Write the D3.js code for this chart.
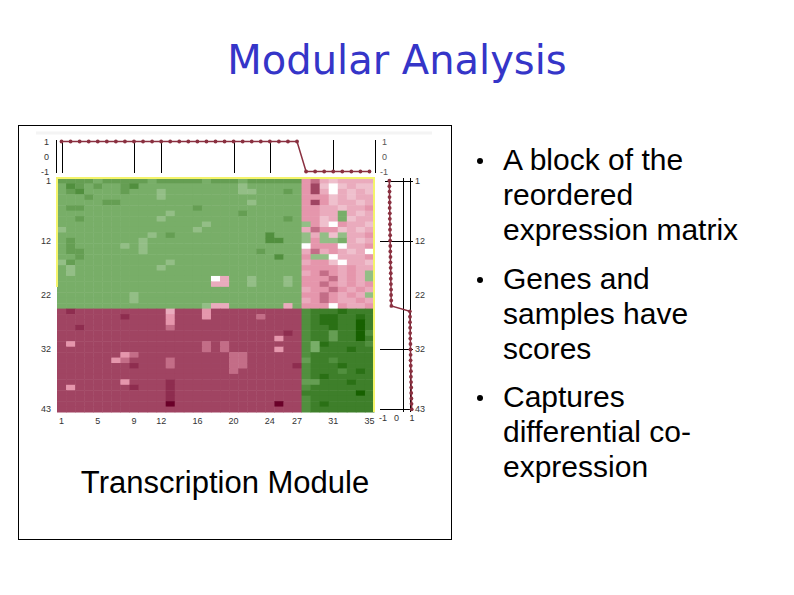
<!DOCTYPE html>
<html>
<head>
<meta charset="utf-8">
<script src="https://cdn.jsdelivr.net/npm/d3@7"></script>
<style>
	body { margin: 0; background: #fff; }
	svg { display: block; }
</style>
</head>
<body>
<div id="slide"></div>
<script>

// column (sample) and row (gene) tick labels
const sample_ticks = [ 1, 5, 9, 12, 16, 20, 24, 27, 31, 35 ];
const sample_grid = [ 1, 9, 12, 20, 24, 31 ];
const gene_ticks = [ 1, 12, 22, 32, 43 ];
const gene_grid = [ 1, 12, 32, 43 ];
const score_ticks = [ -1, 0, 1 ];
const gene_score_grid = [ 0.42, 0.87 ];

const sample_scores = [
	1, 1, 1, 1, 1, 1, 1, 1, 1, 1, 1, 1, 1, 1, 1, 1, 1, 1, 1, 1, 1, 1, 1, 1, 1, 1, 1,
	-1, -1, -1, -1, -1, -1, -1, -1
];

const gene_scores = [
	-0.46, -0.46, -0.45, -0.45, -0.44, -0.44, -0.43, -0.43, -0.42, -0.42, -0.41, -0.41,
	-0.40, -0.40, -0.39, -0.39, -0.38, -0.37, -0.37, -0.36, -0.35, -0.35, -0.34, -0.33,
	0.86, 0.87, 0.87, 0.88, 0.88, 0.89, 0.90, 0.90, 0.91, 0.91, 0.92, 0.93, 0.93, 0.94,
	0.95, 0.95, 0.96, 0.97, 0.98
];

// expression matrix, one string per gene (row), one char per sample
// samples 1-9 | 10-18 | 19-27 | 28-35
// a..j = -0.1..-1.0 (green), 0..9 = 0..0.9 (red), X = 1.0
const expr_rows = [
	"ffffeffff" + "fefffffef" + "ffeffffff" + "56434444",
	"egfefeefg" + "eeeeeeeee" + "eedeeeeee" + "57303433",
	"efgeeeefe" + "eedeeeeee" + "eeddeeefe" + "57404343",
	"eeefeeeee" + "eedeeeeee" + "eeeeeeeee" + "55534344",
	"eeeeeffee" + "eeeeeeeee" + "eeedeeeee" + "57534434",
	"effeeeeee" + "eeeeeefee" + "eeeeeeeee" + "55443445",
	"eeeeeeeee" + "eeedeeeee" + "eefeeeeee" + "5544e434",
	"eefeeeeee" + "eedeeeeee" + "eeeeeeefe" + "5534e344",
	"eeeeeeeee" + "eeeeeeede" + "eeeeeeeee" + "d5305443",
	"deeeeeeee" + "eeeeeedee" + "eeeeeeeee" + "46553434",
	"eeeeeeeee" + "edefeeeee" + "eeeeegeee" + "d4d3d445",
	"efeeeeeee" + "deeeeeeee" + "eeeeeggee" + "d5dde434",
	"efeeeeede" + "deeeeeeee" + "eeeeeeeee" + "05550445",
	"effeeeeee" + "deeeeeeee" + "eeeefeeee" + "46454340",
	"eefeeeeee" + "eeeeeeeee" + "eeeeeegee" + "5dd04445",
	"dfeeeeeee" + "eeedeeeee" + "eeeeeeeee" + "45530443",
	"edeeeeeee" + "eedeeeeee" + "eeeeeeeee" + "55554544",
	"edeeeeeee" + "eeeeeeeee" + "eeeeeeeee" + "4565454d",
	"eeeeeeeee" + "eeeeeeee0" + "4eedeeede" + "5556454d",
	"eeeeeeeee" + "eeeeeeee4" + "4eedeeede" + "55654545",
	"eeeeeeeee" + "eeeeeeeee" + "eeeeeeeee" + "45565454",
	"eeeeeeeed" + "eeeeeeeee" + "eeeeeeeee" + "5565454d",
	"eeeeeeeed" + "eeeeeeeee" + "eeeeeeeee" + "45654454",
	"eeeeeeeee" + "eeeeeeed4" + "4eeeeee4e" + "55505445",
	"787777777" + "777477757" + "777777777" + "ghhhihhh",
	"777777787" + "777577757" + "777767777" + "ghiihhih",
	"777777777" + "777577777" + "777777777" + "ghiihhjh",
	"778777777" + "777677777" + "777777777" + "ghhihhjh",
	"777777777" + "777777777" + "777777787" + "ghhfhhjg",
	"777777777" + "777777777" + "777777577" + "ghhfhhjh",
	"757777777" + "777777767" + "677777777" + "geihhhhg",
	"777777777" + "777777767" + "677777577" + "gehhhihh",
	"777777756" + "777777777" + "766777777" + "ghhhhhhh",
	"777777567" + "777677777" + "766777777" + "fhhghhhh",
	"777777778" + "777677777" + "766777778" + "ghhhihhh",
	"777777777" + "777777777" + "767777777" + "ghhhghih",
	"777777777" + "777777777" + "777777777" + "ghihhhhh",
	"777777757" + "777877777" + "777777777" + "ffhhhihh",
	"757777778" + "777877777" + "777777777" + "ghhhhhhh",
	"777777777" + "777877777" + "777777777" + "hhhhhhjh",
	"777777777" + "777877777" + "777777777" + "ghhhhhhh",
	"777777777" + "777X77777" + "777777X77" + "ghihhhhh",
	"777777777" + "777777777" + "777777777" + "ghhhhhhh"
];

const bullets = [
	[ "A block of the", "reordered", "expression matrix" ],
	[ "Genes and", "samples have", "scores" ],
	[ "Captures", "differential co-", "expression" ]
];

///////////////////////////////////////////////////////////////////////

function cell_value( ch )	{

	if( ch === "X" ) return( 1 );
	if( ch >= "0" && ch <= "9" ) return( +ch / 10 );
	return( -( ch.charCodeAt( 0 ) - 96 ) / 10 );
}

function draw_slide( div_id )	{

	let width = 794, height = 595;

	let svg = d3.select( "#" + div_id )
		.append( "svg" )
			.attr( "width", width )
			.attr( "height", height )
			.style( "font-family", "'Liberation Sans', Arial, sans-serif" );

	svg.append( "rect" )
		.attr( "width", width )
		.attr( "height", height )
		.attr( "fill", "#fff" );

	svg.append( "text" )
		.attr( "x", 397 )
		.attr( "y", 74 )
		.attr( "text-anchor", "middle" )
		.attr( "fill", "#3535c8" )
		.style( "font-family", "'Comic Sans MS', 'DejaVu Sans', sans-serif" )
		.style( "font-size", "40px" )
		.text( "Modular Analysis" );

	// picture frame
	svg.append( "rect" )
		.attr( "x", 18.5 )
		.attr( "y", 125.5 )
		.attr( "width", 433 )
		.attr( "height", 414 )
		.attr( "fill", "none" )
		.attr( "stroke", "#000" );

	svg.append( "line" )
		.attr( "x1", 36 ).attr( "x2", 432 )
		.attr( "y1", 133 ).attr( "y2", 133 )
		.attr( "stroke", "#f4f4f4" )
		.attr( "stroke-width", 3 );

	let cols = d3.range( 1, sample_scores.length + 1 );
	let rows = d3.range( 1, expr_rows.length + 1 );

	let x = d3.scaleBand().domain( cols ).range( [ 57, 374 ] );
	let y = d3.scaleBand().domain( rows ).range( [ 178, 412 ] );
	let xc = d => x( d ) + x.bandwidth() / 2;
	let yc = d => y( d ) + y.bandwidth() / 2;

	let color = d3.scaleLinear()
		.domain( [ -1, -0.5, 0, 0.5, 0.7, 1 ] )
		.range( [ "#176000", "#78ae68", "#ffffff", "#e596ac", "#a04462", "#6a0028" ] );

	let cells = [];
	expr_rows.forEach( ( s, r ) => {
		s.split( "" ).forEach( ( ch, c ) => {
			cells.push( { row: r + 1, col: c + 1, v: cell_value( ch ) } );
		} );
	} );

	svg.append( "g" )
		.selectAll( "rect" )
		.data( cells )
		.join( "rect" )
			.attr( "x", d => x( d.col ) )
			.attr( "y", d => y( d.row ) )
			.attr( "width", x.bandwidth() + 0.5 )
			.attr( "height", y.bandwidth() + 0.5 )
			.attr( "fill", d => color( d.v ) );

	// yellow module border
	let border = d3.path();
	border.moveTo( 57, 287 );
	border.lineTo( 57, 178 );
	border.lineTo( 374, 178 );
	border.lineTo( 374, 412 );
	svg.append( "path" )
		.attr( "d", border.toString() )
		.attr( "fill", "none" )
		.attr( "stroke", "#f4f46a" )
		.attr( "stroke-width", 2 );

	let tick_font = "9px";
	let tick_color = "#333";

	// row labels left
	svg.append( "g" )
		.selectAll( "text" )
		.data( gene_ticks )
		.join( "text" )
			.attr( "x", 51 )
			.attr( "y", d => yc( d ) + 3 )
			.attr( "text-anchor", "end" )
			.attr( "fill", tick_color )
			.style( "font-size", tick_font )
			.text( d => d );

	// column labels bottom
	svg.append( "g" )
		.selectAll( "text" )
		.data( sample_ticks )
		.join( "text" )
			.attr( "x", d => xc( d ) )
			.attr( "y", 424 )
			.attr( "text-anchor", "middle" )
			.attr( "fill", tick_color )
			.style( "font-size", tick_font )
			.text( d => d );

	// sample score panel (top)
	let ys = d3.scaleLinear().domain( [ -1, 1 ] ).range( [ 171.5, 141.5 ] );

	let top = svg.append( "g" );
	top.selectAll( "line.grid" )
		.data( sample_grid )
		.join( "line" )
			.attr( "class", "grid" )
			.attr( "x1", d => Math.round( xc( d ) ) + 0.5 )
			.attr( "x2", d => Math.round( xc( d ) ) + 0.5 )
			.attr( "y1", 140 )
			.attr( "y2", 173 )
			.attr( "stroke", "#000" );
	[ 56.5, 375.5 ].forEach( ax => {
		top.append( "line" )
			.attr( "x1", ax ).attr( "x2", ax )
			.attr( "y1", 140 ).attr( "y2", 173 )
			.attr( "stroke", "#000" );
	} );
	top.selectAll( "text.l" )
		.data( score_ticks )
		.join( "text" )
			.attr( "class", "l" )
			.attr( "x", 49 )
			.attr( "y", d => ys( d ) + 3 )
			.attr( "text-anchor", "end" )
			.attr( "fill", tick_color )
			.style( "font-size", tick_font )
			.text( d => d );
	top.selectAll( "text.r" )
		.data( score_ticks )
		.join( "text" )
			.attr( "class", "r" )
			.attr( "x", d => d < 0 ? 380 : 382 )
			.attr( "y", d => ys( d ) + 3 )
			.attr( "fill", "#555" )
			.style( "font-size", tick_font )
			.text( d => d );

	let score_color = "#8a3040";

	top.append( "path" )
		.datum( cols )
		.attr( "d", d3.line().x( d => xc( d ) ).y( d => ys( sample_scores[ d - 1 ] ) ) )
		.attr( "fill", "none" )
		.attr( "stroke", score_color )
		.attr( "stroke-width", 1.5 );
	top.selectAll( "circle" )
		.data( cols )
		.join( "circle" )
			.attr( "cx", d => xc( d ) )
			.attr( "cy", d => ys( sample_scores[ d - 1 ] ) )
			.attr( "r", 1.9 )
			.attr( "fill", score_color );

	// gene score panel (right)
	let xg = d3.scaleLinear().domain( [ -1, 1 ] ).range( [ 381, 412 ] );

	let side = svg.append( "g" );
	side.selectAll( "line.v" )
		.data( gene_score_grid )
		.join( "line" )
			.attr( "class", "v" )
			.attr( "x1", d => Math.round( xg( d ) ) + 0.5 )
			.attr( "x2", d => Math.round( xg( d ) ) + 0.5 )
			.attr( "y1", 178 )
			.attr( "y2", 412 )
			.attr( "stroke", "#000" );
	side.selectAll( "line.h" )
		.data( gene_grid )
		.join( "line" )
			.attr( "class", "h" )
			.attr( "x1", d => d === 1 ? 385 : 380 )
			.attr( "x2", 413 )
			.attr( "y1", d => Math.round( yc( d ) ) + 0.5 )
			.attr( "y2", d => Math.round( yc( d ) ) + 0.5 )
			.attr( "stroke", "#000" );
	side.selectAll( "text.g" )
		.data( gene_ticks )
		.join( "text" )
			.attr( "class", "g" )
			.attr( "x", 415 )
			.attr( "y", d => yc( d ) + 3 )
			.attr( "fill", tick_color )
			.style( "font-size", tick_font )
			.text( d => d );
	side.selectAll( "text.s" )
		.data( score_ticks )
		.join( "text" )
			.attr( "class", "s" )
			.attr( "x", d => xg( d ) + ( d < 0 ? 2 : 0 ) )
			.attr( "y", 421 )
			.attr( "text-anchor", "middle" )
			.attr( "fill", tick_color )
			.style( "font-size", tick_font )
			.text( d => d );

	side.append( "path" )
		.datum( rows )
		.attr( "d", d3.line().x( d => xg( gene_scores[ d - 1 ] ) ).y( d => yc( d ) ) )
		.attr( "fill", "none" )
		.attr( "stroke", score_color )
		.attr( "stroke-width", 1.5 );
	side.selectAll( "circle" )
		.data( rows )
		.join( "circle" )
			.attr( "cx", d => xg( gene_scores[ d - 1 ] ) )
			.attr( "cy", d => yc( d ) )
			.attr( "r", 1.9 )
			.attr( "fill", score_color );

	svg.append( "text" )
		.attr( "x", 225 )
		.attr( "y", 493 )
		.attr( "text-anchor", "middle" )
		.attr( "fill", "#000" )
		.style( "font-size", "31px" )
		.text( "Transcription Module" );

	// bullet list
	let first_baseline = [ 170, 289, 407 ];
	let line_step = 35;

	let items = svg.append( "g" )
		.selectAll( "g" )
		.data( bullets )
		.join( "g" )
			.attr( "transform", ( d, i ) => "translate(0," + first_baseline[ i ] + ")" );

	items.append( "circle" )
		.attr( "cx", 480 )
		.attr( "cy", -9 )
		.attr( "r", 3 )
		.attr( "fill", "#000" );

	items.selectAll( "text" )
		.data( d => d )
		.join( "text" )
			.attr( "x", 503 )
			.attr( "y", ( d, i ) => i * line_step )
			.attr( "fill", "#000" )
			.style( "font-size", "30px" )
			.text( d => d );
}

draw_slide( "slide" );

</script>
</body>
</html>
